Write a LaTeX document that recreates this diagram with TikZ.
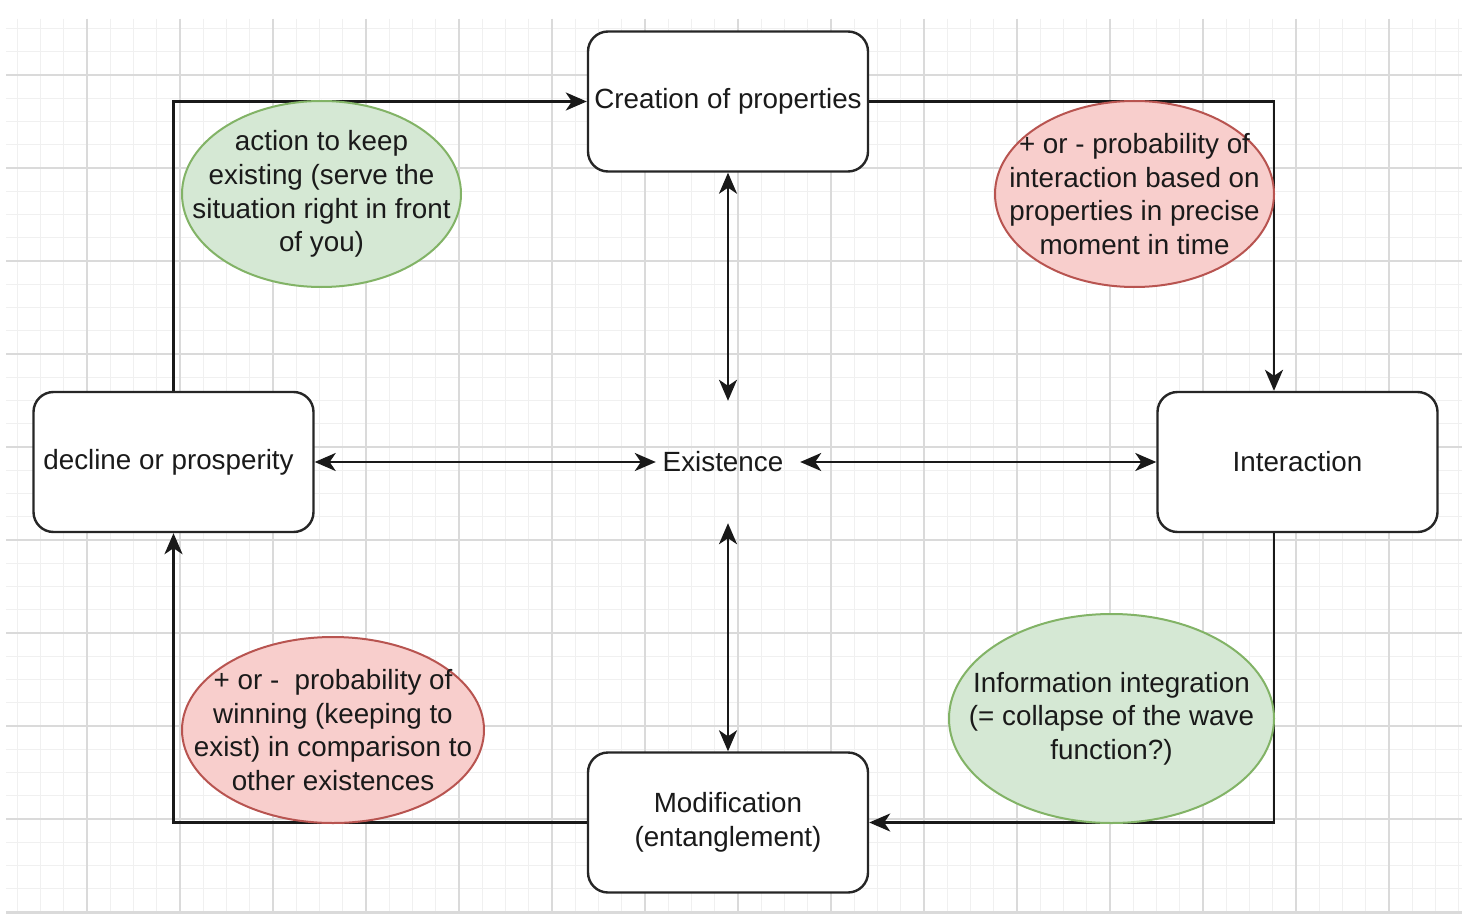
\documentclass[tikz,border=0pt]{standalone}
\usepackage{fontspec}
\setmainfont{Liberation Sans}
\usetikzlibrary{shapes.geometric,arrows.meta}
\definecolor{gridminor}{HTML}{F0F0F0}
\definecolor{gridmajor}{HTML}{DADADA}
\definecolor{gfill}{HTML}{D5E8D4}
\definecolor{gline}{HTML}{82B366}
\definecolor{rfill}{HTML}{F8CECC}
\definecolor{rline}{HTML}{B85450}
\definecolor{txt}{HTML}{1A1A1A}
\tikzset{
  txtfont/.style={font=\fontsize{27.8}{33.7}\selectfont, text=txt},
  procbox/.style={draw=black!85, line width=2.4pt, fill=white, rounded corners=20pt,
    minimum width=280pt, minimum height=140pt, inner sep=0pt, align=center, txtfont},
  midnode/.style={minimum width=144pt, minimum height=122pt, inner sep=0pt, txtfont},
  ellbase/.style={ellipse, line width=2pt, inner sep=0pt},
  greenell/.style={ellbase, draw=gline, fill=gfill},
  redell/.style={ellbase, draw=rline, fill=rfill},
  elltext/.style={align=center, txtfont, inner sep=0pt},
  conn/.style={line width=2.4pt, draw=black!90},
  headone/.style={-{Stealth[length=21pt,width=18pt,inset=6pt]}},
  headtwo/.style={{Stealth[length=21pt,width=18pt,inset=6pt]}-{Stealth[length=21pt,width=18pt,inset=6pt]}}
}
\begin{document}
\begin{tikzpicture}[x=1pt,y=-1pt]
\useasboundingbox (0,0) rectangle (1466,920);
\fill[white] (0,0) rectangle (1466,920);
% grid
\begin{scope}
\clip (6,19) rectangle (1462,913);
\foreach \i in {0,...,63} {
  \draw[gridminor, line width=1pt] ({17.25+23.25*\i},19) -- ({17.25+23.25*\i},913);
}
\foreach \i in {0,...,39} {
  \draw[gridminor, line width=1pt] (6,{5.25+23.25*\i}) -- (1462,{5.25+23.25*\i});
}
\foreach \i in {0,...,15} {
  \draw[gridmajor, line width=1.2pt] ({87+93*\i},19) -- ({87+93*\i},913);
}
\foreach \i in {0,...,9} {
  \draw[gridmajor, line width=1.2pt] (6,{75+93*\i}) -- (1462,{75+93*\i});
}
\end{scope}
\draw[gridmajor, line width=1.2pt] (6,913) -- (1462,913);

% nodes
\node[procbox] (cre) at (728,101.5) {Creation of properties};
\node[procbox] (dec) at (173.5,462) {\hspace*{-10pt}decline or prosperity};
\node[procbox] (int) at (1297.5,462) {Interaction};
\node[procbox] (mod) at (728,822.5) {Modification\\(entanglement)};
\node[midnode] (ex) at (728,462) {\hspace*{-10pt}Existence};

\coordinate (c1) at (173.5,101.5);
\coordinate (c2) at (1274,101.5);
\coordinate (c3) at (1274,822.5);
\coordinate (c4) at (173.5,822.5);

% connectors
\draw[conn,headone] (dec.north) -- (c1) -- (cre.west);
\draw[conn,headone] (cre.east) -- (c2) -- (c2 |- int.north);
\draw[conn,headone] (c2 |- int.south) -- (c3) -- (mod.east);
\draw[conn,headone] (mod.west) -- (c4) -- (dec.south);
\draw[conn,headtwo] (dec.east) -- (ex.west);
\draw[conn,headtwo] (ex.east) -- (int.west);
\draw[conn,headtwo] (cre.south) -- (ex.north);
\draw[conn,headtwo] (ex.south) -- (mod.north);

% ellipses
\node[greenell, minimum width=279pt, minimum height=186pt,
  label={[elltext]center:action to keep\\existing (serve the\\situation right in front\\of you)}] (e1) at (321.5,194) {};
\node[redell, minimum width=279pt, minimum height=186pt,
  label={[elltext]center:+ or - probability of\\interaction based on\\properties in precise\\moment in time}] (e2) at (1134.5,194) {};
\node[redell, minimum width=302pt, minimum height=186pt,
  label={[elltext]center:+ or -\ \ probability of\\winning (keeping to\\exist) in comparison to\\other existences}] (e3) at (333,730) {};
\node[greenell, minimum width=325pt, minimum height=209pt,
  label={[elltext]center:Information integration\\(= collapse of the wave\\function?)}] (e4) at (1111.5,718.5) {};
\end{tikzpicture}
\end{document}
